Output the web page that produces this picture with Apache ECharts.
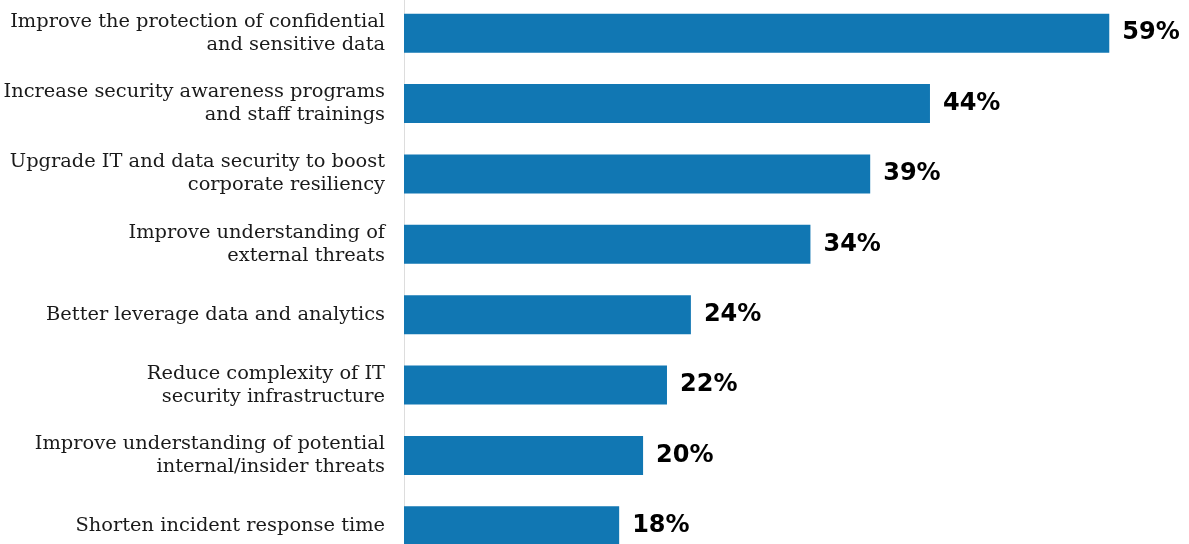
<!DOCTYPE html>
<html><head><meta charset="utf-8">
<script src="https://cdn.jsdelivr.net/npm/echarts@6/dist/echarts.min.js"></script>
<style>html,body{margin:0;padding:0;background:#fff}#c{width:1189px;height:544px}</style>
</head><body><div id="c"></div>
<script>
const categories = [
  "Improve the protection of confidential\nand sensitive data",
  "Increase security awareness programs\nand staff trainings",
  "Upgrade IT and data security to boost\ncorporate resiliency",
  "Improve understanding of\nexternal threats",
  "Better leverage data and analytics",
  "Reduce complexity of IT\nsecurity infrastructure",
  "Improve understanding of potential\ninternal/insider threats",
  "Shorten incident response time"
];
const values = [59, 44, 39, 34, 24, 22, 20, 18];

const chart = echarts.init(document.getElementById('c'));
chart.setOption({
  animation: false,
  grid: { left: 404, right: 8, top: -2, height: 563, containLabel: false, outerBoundsMode: 'none' },
  xAxis: { type: 'value', min: 0, max: 65, show: false },
  yAxis: {
    type: 'category', inverse: true, data: categories,
    axisLine: { show: true, lineStyle: { color: '#dddddd', width: 1 } },
    axisTick: { show: false },
    axisLabel: { margin: 19, color: '#1a1a1a', fontFamily: 'DejaVu Serif', fontSize: 19.4, lineHeight: 23, align: 'right' }
  },
  series: [{
    type: 'bar', data: values, barWidth: 39,
    itemStyle: { color: '#1177b3' },
    label: { show: true, position: 'right', distance: 13, formatter: '{c}%', color: '#000', fontFamily: 'DejaVu Sans', fontWeight: 'bold', fontSize: 24 }
  }]
});
</script></body></html>
